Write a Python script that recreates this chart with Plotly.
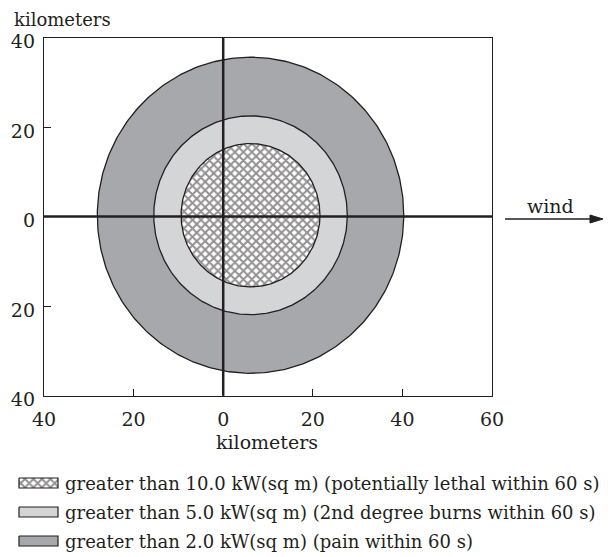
import numpy as np
import plotly.graph_objects as go

W, H = 616, 557          # window size
OFF = 8                  # page body margin
FW, FH = W - OFF, H - OFF  # figure size so it fits the window exactly

# ---- data ----
zone_names = [
    "greater than 2.0 kW(sq m) (pain within 60 s)",
    "greater than 5.0 kW(sq m) (2nd degree burns within 60 s)",
    "greater than 10.0 kW(sq m) (potentially lethal within 60 s)",
]
center_x = 6.1
center_y = 0.3
radius_x = [34.2, 21.6, 15.5]
radius_y = [35.3, 22.2, 16.0]

x_tickvals = [-40, -20, 0, 20, 40, 60]
x_ticktext = ["40", "20", "0", "20", "40", "60"]
y_tickvals = [-40, -20, 0, 20, 40]
y_ticktext = ["40", "20", "0", "20", "40"]

# ---- styles ----
INK = "#231f20"
FONT = "DejaVu Serif"
fills = ["#a7a8ab", "#d4d5d7", "white"]
patterns = [None, None, dict(shape="x", size=6, solidity=0.55, fgcolor=INK, bgcolor="white")]


def px_x(p):
    return (p - OFF) / FW


def px_y(p):
    return 1 - (p - OFF) / FH


fig = go.Figure()

theta = np.linspace(0, 2 * np.pi, 361)
for name, rx, ry, fc, pat in zip(zone_names, radius_x, radius_y, fills, patterns):
    kw = dict(
        x=center_x + rx * np.cos(theta),
        y=center_y + ry * np.sin(theta),
        mode="lines",
        fill="toself",
        fillcolor=fc,
        line=dict(color=INK, width=1.3),
        hoverinfo="skip",
        showlegend=False,
        name=name,
    )
    if pat:
        kw["fillpattern"] = pat
    fig.add_trace(go.Scatter(**kw))

# ---- custom legend (in a pixel-unit helper axis) ----
legend_rows = [483, 512, 541]
legend_order = [2, 1, 0]
for row, idx in zip(legend_rows, legend_order):
    kw = dict(
        x=[19, 58, 58, 19, 19],
        y=[row - 5, row - 5, row + 5, row + 5, row - 5],
        mode="lines",
        fill="toself",
        fillcolor=fills[idx],
        line=dict(color=INK, width=1.2),
        hoverinfo="skip",
        showlegend=False,
        xaxis="x2",
        yaxis="y2",
    )
    if patterns[idx]:
        kw["fillpattern"] = patterns[idx]
    fig.add_trace(go.Scatter(**kw))
    fig.add_annotation(
        x=63, y=row, xref="x2", yref="y2", text=zone_names[idx],
        showarrow=False, xanchor="left", yanchor="middle",
        font=dict(family=FONT, size=18, color=INK),
    )

axis_common = dict(
    showgrid=False, zeroline=False, showline=True, mirror=True,
    linecolor=INK, linewidth=1.3, ticks="inside", ticklen=7,
    tickwidth=1.2, tickcolor=INK, automargin=False,
    tickfont=dict(family=FONT, size=19, color=INK),
)

fig.update_layout(
    width=FW, height=FH,
    margin=dict(l=0, r=0, t=0, b=0, pad=0, autoexpand=False),
    paper_bgcolor="white", plot_bgcolor="white",
    xaxis=dict(domain=[px_x(44), px_x(492)], range=[-40, 60],
               tickvals=x_tickvals, ticktext=x_ticktext,
               ticklabelstandoff=6, anchor="y", **axis_common),
    yaxis=dict(domain=[px_y(395.7), px_y(37.5)], range=[-40, 40],
               tickvals=y_tickvals, ticktext=y_ticktext,
               ticklabelstandoff=4, ticklabelshift=4, anchor="x", **axis_common),
    xaxis2=dict(domain=[0, 1], range=[OFF, W], visible=False, anchor="y2",
                fixedrange=True, automargin=False),
    yaxis2=dict(domain=[0, px_y(462)], range=[H, 462], visible=False, anchor="x2",
                fixedrange=True, automargin=False),
    showlegend=False,
)

# cross lines at 0
fig.add_shape(type="line", xref="x", yref="y domain", x0=0, x1=0, y0=0, y1=1,
              line=dict(color=INK, width=2.5), layer="above")
fig.add_shape(type="line", xref="x domain", yref="y", x0=0, x1=1, y0=0, y1=0,
              line=dict(color=INK, width=2.5), layer="above")

# axis titles
fig.add_annotation(x=px_x(13), y=1, xref="paper", yref="paper", text="kilometers",
                   showarrow=False, xanchor="left", yanchor="top", borderpad=0,
                   font=dict(family=FONT, size=18, color=INK))
fig.add_annotation(x=px_x(267), y=px_y(442), xref="paper", yref="paper", text="kilometers",
                   showarrow=False, xanchor="center", yanchor="middle",
                   font=dict(family=FONT, size=19, color=INK))

# wind arrow
fig.add_annotation(x=px_x(550), y=px_y(206), xref="paper", yref="paper", text="wind",
                   showarrow=False, xanchor="center", yanchor="middle",
                   font=dict(family=FONT, size=19, color=INK))
fig.add_shape(type="line", xref="paper", yref="paper",
              x0=px_x(505), x1=px_x(592), y0=px_y(219), y1=px_y(219),
              line=dict(color=INK, width=1.5))
fig.add_shape(type="path", xref="paper", yref="paper",
              path=f"M{px_x(590)},{px_y(215)} L{px_x(603)},{px_y(219)} L{px_x(590)},{px_y(223)} Z",
              fillcolor=INK, line=dict(color=INK, width=1))

fig.write_html("out.html")
